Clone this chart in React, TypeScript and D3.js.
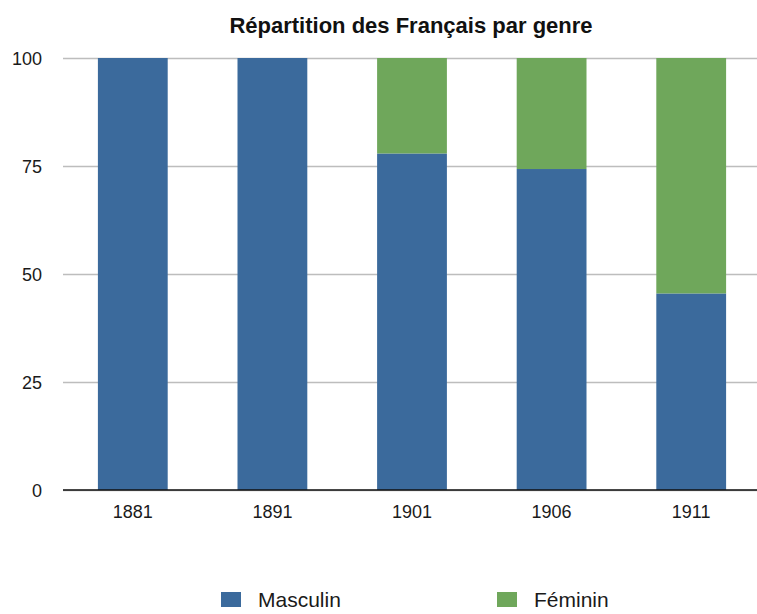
import React, { useEffect, useRef } from 'react'
import { axisLeft, scaleBand, scaleLinear, select, stack } from 'd3'

const years = ['1881', '1891', '1901', '1906', '1911']
const masculin = [100, 100, 77.9, 74.3, 45.5]
const feminin = [0, 0, 22.1, 25.7, 54.5]
const seriesNames = ['Masculin', 'Féminin']
const yTicks = [0, 25, 50, 75, 100]

const colors = ['#3b6a9c', '#6fa75b']

export default function App() {
  const svgRef = useRef(null)

  useEffect(() => {
    const svg = select(svgRef.current)
    svg.selectAll('*').remove()

    const width = 757, height = 614
    const left = 63, right = 761, top = 58, bottom = 490
    const font = '"Liberation Sans", Arial, sans-serif'

    const x = scaleBand().domain(years).range([left, right]).paddingInner(0.5).paddingOuter(0.25)
    const y = scaleLinear().domain([0, 100]).range([bottom, top])

    const rows = years.map((yr, i) => ({ year: yr, Masculin: masculin[i], 'Féminin': feminin[i] }))
    const layers = stack().keys(seriesNames)(rows)

    svg.attr('width', width).attr('height', height)

    // title
    svg.append('text')
      .attr('x', 411)
      .attr('y', 33)
      .attr('text-anchor', 'middle')
      .attr('font-family', font)
      .attr('font-weight', 'bold')
      .attr('font-size', 22)
      .attr('fill', '#111')
      .text('Répartition des Français par genre')

    // grid + y labels
    const yAxis = svg.append('g')
      .attr('transform', `translate(${left},0)`)
      .call(axisLeft(y).tickValues(yTicks).tickSize(-(width - left)).tickPadding(21))
    yAxis.select('.domain').remove()
    yAxis.selectAll('line').attr('stroke', '#bdbdbd').attr('stroke-width', 1.5)
    yAxis.selectAll('text')
      .attr('font-family', font)
      .attr('font-size', 18)
      .attr('dy', '0.35em')
      .attr('fill', '#1a1a1a')

    // bars
    svg.append('g').selectAll('g')
      .data(layers)
      .join('g')
      .attr('fill', (d, i) => colors[i])
      .selectAll('rect')
      .data(d => d)
      .join('rect')
      .attr('x', d => x(d.data.year))
      .attr('width', x.bandwidth())
      .attr('y', d => y(d[1]))
      .attr('height', d => y(d[0]) - y(d[1]))

    // baseline
    svg.append('line')
      .attr('x1', left).attr('x2', width)
      .attr('y1', bottom).attr('y2', bottom)
      .attr('stroke', '#111').attr('stroke-width', 1.5)

    // x labels
    svg.append('g').selectAll('text')
      .data(years)
      .join('text')
      .attr('x', d => x(d) + x.bandwidth() / 2)
      .attr('y', 518)
      .attr('text-anchor', 'middle')
      .attr('font-family', font)
      .attr('font-size', 18)
      .attr('fill', '#1a1a1a')
      .text(d => d)

    // legend
    const legendX = [221, 497]
    const lg = svg.append('g').selectAll('g')
      .data(seriesNames)
      .join('g')
      .attr('transform', (d, i) => `translate(${legendX[i]},592)`)
    lg.append('rect')
      .attr('width', 20).attr('height', 15)
      .attr('fill', (d, i) => colors[i])
    lg.append('text')
      .attr('x', 37).attr('y', 15)
      .attr('font-family', font)
      .attr('font-size', 21)
      .attr('fill', '#1a1a1a')
      .text(d => d)
  }, [])

  return (
    <div style={{ position: 'absolute', left: 0, top: 0 }}>
      <svg ref={svgRef}></svg>
    </div>
  )
}
